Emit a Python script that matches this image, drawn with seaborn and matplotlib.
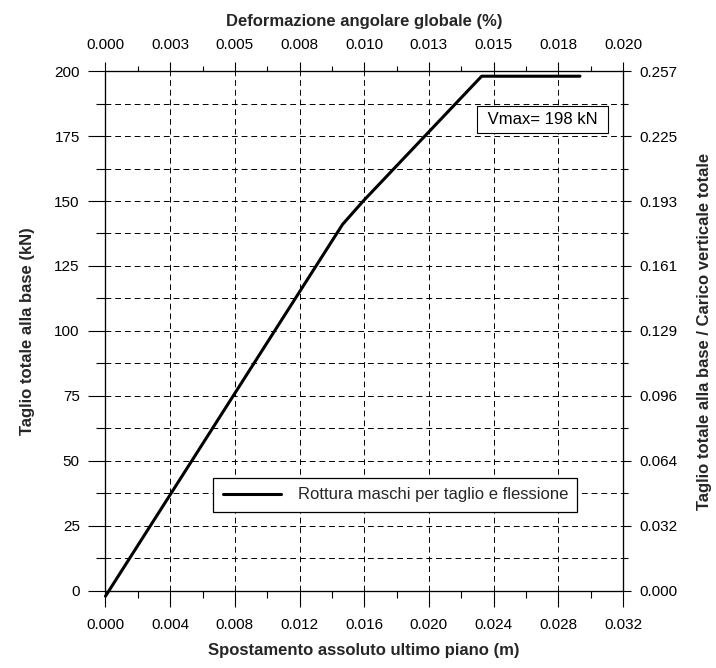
import matplotlib
matplotlib.use("Agg")
import matplotlib.pyplot as plt
import seaborn as sns
import pandas as pd
from matplotlib.ticker import MultipleLocator, FixedLocator

# ---- data ----
spostamento = [0.0, 0.01466, 0.01594, 0.02326, 0.02934]   # m
taglio = [-2.0, 141.0, 150.0, 198.0, 198.0]               # kN
serie = "Rottura maschi per taglio e flessione"

x_ticks = [0.000, 0.004, 0.008, 0.012, 0.016, 0.020, 0.024, 0.028, 0.032]
x_labels = ["0.000", "0.004", "0.008", "0.012", "0.016", "0.020", "0.024", "0.028", "0.032"]
y_ticks = [0, 25, 50, 75, 100, 125, 150, 175, 200]
top_ticks = [0.0, 0.0025, 0.005, 0.0075, 0.01, 0.0125, 0.015, 0.0175, 0.02]
top_labels = ["0.000", "0.003", "0.005", "0.008", "0.010", "0.013", "0.015", "0.018", "0.020"]
right_max = 0.257
right_labels = ["0.000", "0.032", "0.064", "0.096", "0.129", "0.161", "0.193", "0.225", "0.257"]
vmax_text = "Vmax= 198 kN"
vmax_pos = (0.02702, 181.3)

# ---- style ----
sns.set_theme(style="white")
plt.rcParams["font.family"] = ["Liberation Sans", "DejaVu Sans"]
plt.rcParams["axes.edgecolor"] = "black"
plt.rcParams["axes.linewidth"] = 0.8

fig = plt.figure(figsize=(7.16, 6.68), dpi=100)
ax = fig.add_axes([0.1473, 0.1153, 0.7228, 0.7784])

df = pd.DataFrame({"x": spostamento, "y": taglio, "serie": serie})
sns.lineplot(data=df, x="x", y="y", color="black", lw=2.2, sort=False,
             estimator=None, label=serie, ax=ax, clip_on=False, zorder=5)

ax.set_xlim(0, 0.032)
ax.set_ylim(0, 200)
ax.set_xticks(x_ticks)
ax.set_xticklabels(x_labels)
ax.set_yticks(y_ticks)
ax.xaxis.set_minor_locator(MultipleLocator(0.002))
ax.yaxis.set_minor_locator(MultipleLocator(12.5))
ax.set_axisbelow(True)
dash = (0, (6, 4))
ax.grid(axis="y", which="both", color="black", lw=0.7, linestyle=dash)
ax.grid(axis="x", which="major", color="black", lw=0.7, linestyle=dash)

ax.tick_params(axis="x", which="major", direction="out", length=11.5, width=0.8,
               color="black", labelsize=11, pad=8, labelcolor="black")
ax.tick_params(axis="x", which="minor", direction="out", length=5, width=0.8, color="black")
ax.tick_params(axis="y", which="major", direction="out", length=12.5, width=0.8,
               color="black", labelsize=11, pad=6, labelcolor="black")
ax.tick_params(axis="y", which="minor", direction="out", length=6.5, width=0.8, color="black")

ax.set_xlabel("Spostamento assoluto ultimo piano (m)", fontsize=12, fontweight="bold", labelpad=8)
ax.set_ylabel("Taglio totale alla base (kN)", fontsize=12, fontweight="bold", labelpad=14)

for s in ax.spines.values():
    s.set_visible(True)
    s.set_color("black")
    s.set_linewidth(0.8)

leg = ax.legend(loc="center", bbox_to_anchor=(0.56, 0.1846), fontsize=12,
                frameon=True, fancybox=False, framealpha=1, edgecolor="black",
                handlelength=3.5, handletextpad=1.0, borderpad=0.55)
leg.get_frame().set_linewidth(0.9)
for h in leg.get_lines():
    h.set_linewidth(2.2)

ax.text(vmax_pos[0], vmax_pos[1], " " + vmax_text + " ", ha="center", va="center",
        fontsize=12, color="black", zorder=6,
        bbox=dict(boxstyle="square,pad=0.35", fc="white", ec="black", lw=0.8))

# ---- top axis ----
axt = ax.twiny()
axt.set_xlim(0, 0.02)
axt.set_xticks(top_ticks)
axt.set_xticklabels(top_labels)
axt.xaxis.set_minor_locator(MultipleLocator(0.00125))
axt.tick_params(axis="x", which="major", direction="out", length=6.5, width=0.8,
                color="black", labelsize=11, pad=7, labelcolor="black")
axt.tick_params(axis="x", which="minor", direction="out", length=3.5, width=0.8, color="black")
axt.set_xlabel("Deformazione angolare globale (%)", fontsize=12, fontweight="bold", labelpad=9)
axt.grid(False)

# ---- right axis ----
axr = ax.twinx()
axr.set_ylim(0, right_max)
right_ticks = [t * right_max / 200 for t in y_ticks]
axr.set_yticks(right_ticks)
axr.set_yticklabels(right_labels)
axr.yaxis.set_minor_locator(FixedLocator([(a + b) / 2 for a, b in zip(right_ticks[:-1], right_ticks[1:])]))
axr.tick_params(axis="y", which="major", direction="out", length=6, width=0.8,
                color="black", labelsize=11, pad=6, labelcolor="black")
axr.tick_params(axis="y", which="minor", direction="out", length=3.5, width=0.8, color="black")
axr.set_ylabel("Taglio totale alla base / Carico verticale totale", fontsize=12,
               fontweight="bold", labelpad=14)
axr.grid(False)

fig.savefig("out.png", dpi=100)
